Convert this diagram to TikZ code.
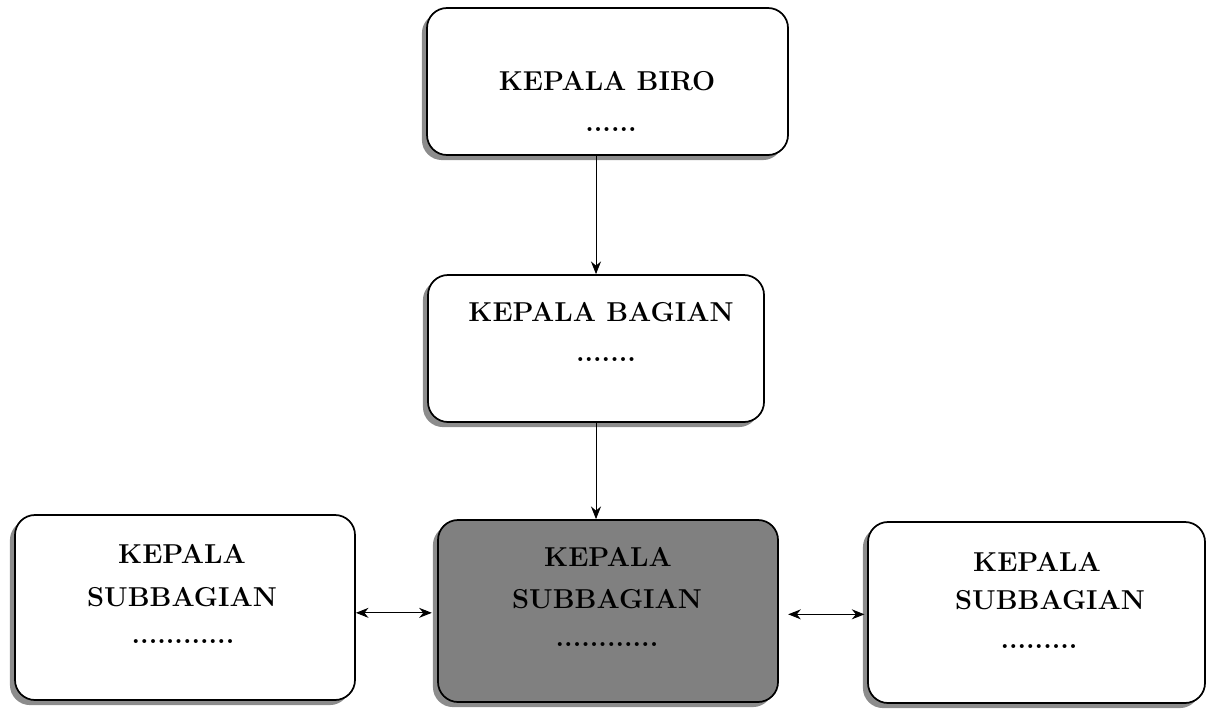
\documentclass[tikz,border=0pt]{standalone}
\usetikzlibrary{shadows,arrows.meta}
\begin{document}
\begin{tikzpicture}[x=0.75pt,y=-0.75pt,
  box/.style={draw=black, line width=1.3pt, rounded corners=15pt, fill=white,
    inner sep=0pt,
    general shadow={fill=black!45, shadow xshift=-3.8pt, shadow yshift=-3.8pt}},
  darkbox/.style={box, fill=black!50},
  lbl/.style={inner sep=0pt, font=\fontsize{20.5}{24}\bfseries\selectfont},
  conn/.style={line width=0.7pt, -{Stealth[length=9.5pt,width=7.5pt]}},
  dconn/.style={line width=0.7pt, {Stealth[length=9.5pt,width=7.5pt]}-{Stealth[length=9.5pt,width=7.5pt]}}
]
\useasboundingbox (0,0) rectangle (1207,711);

% boxes
\node[box, minimum width=270.75pt, minimum height=110.25pt] (b1) at (607.5,81.5) {};
\node[box, minimum width=252pt, minimum height=110.25pt] (b2) at (596,348.5) {};
\node[box, minimum width=255pt, minimum height=138.75pt] (b3) at (185,607.5) {};
\node[darkbox, minimum width=255pt, minimum height=136.5pt] (b4) at (608,611) {};
\node[box, minimum width=252.75pt, minimum height=135.75pt] (b5) at (1036.5,612.5) {};

% labels
\node[lbl] (t1a) at (607,81) {KEPALA BIRO};
\node[lbl] (t1b) at (611,130) {......};
\node[lbl] (t2a) at (601,312) {KEPALA BAGIAN};
\node[lbl] (t2b) at (606,360) {.......};
\node[lbl] (t3a) at (182,554) {KEPALA};
\node[lbl] (t3b) at (182,597) {SUBBAGIAN};
\node[lbl] (t3c) at (183,642) {............};
\node[lbl] (t4a) at (608,557) {KEPALA};
\node[lbl] (t4b) at (607,599) {SUBBAGIAN};
\node[lbl] (t4c) at (607,645) {............};
\node[lbl] (t5a) at (1037,562) {KEPALA};
\node[lbl] (t5b) at (1050,600) {SUBBAGIAN};
\node[lbl] (t5c) at (1039,647) {.........};

% connectors
\draw[conn] (b2.north |- b1.south) -- (b2.north);
\draw[conn] (b2.south) -- (b2.south |- b4.north);
\draw[dconn] ([yshift=-4pt]b3.east) -- ([yshift=-4pt,xshift=-4pt]b3.east -| b4.west);
\draw[dconn] ([yshift=-2.5pt,xshift=7pt]b4.east) -- ([yshift=-2.5pt,xshift=-2pt]b4.east -| b5.west);
\end{tikzpicture}
\end{document}
